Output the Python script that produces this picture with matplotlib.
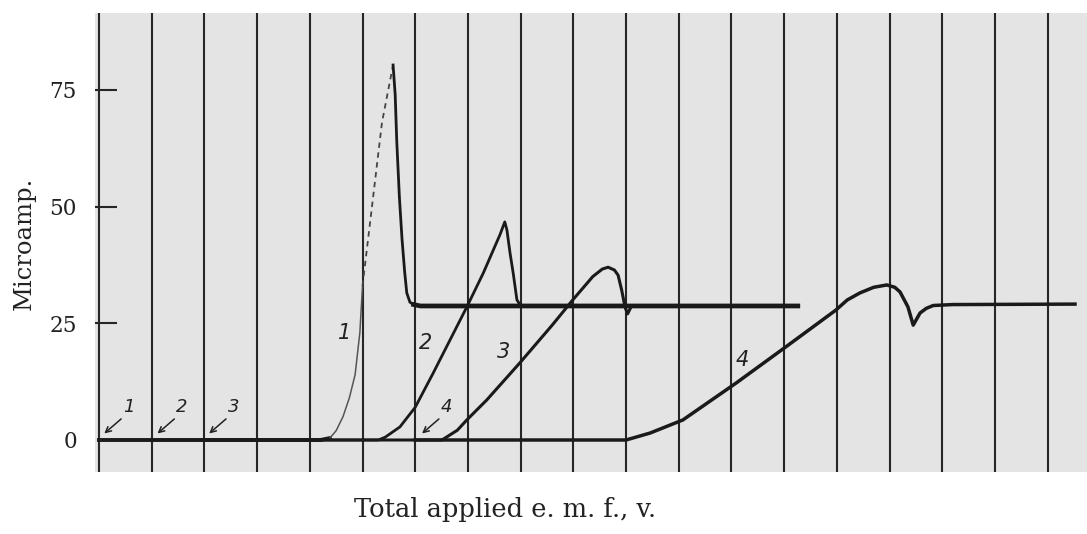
import matplotlib
matplotlib.use("Agg")
import matplotlib.pyplot as plt

# ---- data (x in chart divisions, y in microamperes) ----
yticks = [25, 50, 75]
ytick_labels = ["25", "50", "75"]
zero_label = "0"
n_divisions = 18

curve1_x = [0.0, 4.2, 4.38, 4.5, 4.63, 4.75, 4.86, 4.95, 5.0, 5.18, 5.37, 5.58,
            5.62, 5.65, 5.7, 5.75, 5.8, 5.84, 5.9, 5.97, 6.1, 13.26]
curve1_y = [0.0, 0.0, 0.4, 2.0, 5.0, 9.0, 14.0, 23.0, 33.0, 50.0, 68.0, 80.3,
            74.0, 64.0, 52.0, 43.0, 36.0, 31.5, 29.5, 29.0, 28.7, 28.7]

curve2_x = [1.0, 5.3, 5.43, 5.71, 6.0, 6.34, 6.66, 6.98, 7.29, 7.61, 7.7, 7.74,
            7.8, 7.86, 7.93, 8.0, 13.26]
curve2_y = [0.0, 0.0, 0.6, 2.8, 7.0, 14.3, 21.4, 28.5, 35.7, 44.0, 46.7, 45.0,
            40.0, 35.7, 30.0, 28.8, 28.7]

curve3_x = [2.0, 6.5, 6.55, 6.8, 6.98, 7.36, 8.0, 8.6, 8.99, 9.37, 9.55, 9.66,
            9.78, 9.85, 9.92, 9.98, 10.03, 10.1, 13.26]
curve3_y = [0.0, 0.0, 0.3, 2.1, 4.3, 8.6, 16.7, 24.6, 30.0, 35.0, 36.6, 37.0,
            36.4, 35.3, 32.0, 28.5, 27.0, 28.6, 28.7]

curve4_x = [6.0, 10.0, 10.46, 11.08, 12.09, 13.04, 13.98, 14.2, 14.44, 14.7,
            14.95, 15.1, 15.2, 15.35, 15.45, 15.52, 15.58, 15.7, 15.83, 16.2, 18.52]
curve4_y = [0.0, 0.0, 1.5, 4.3, 12.2, 20.0, 27.8, 30.0, 31.5, 32.7,
            33.2, 32.7, 31.7, 28.5, 24.6, 26.0, 27.2, 28.2, 28.8, 29.0, 29.1]

curve_labels = ["1", "2", "3", "4"]

# ---- figure ----
W, H, DPI = 1087, 534, 100
fig = plt.figure(figsize=(W / DPI, H / DPI), dpi=DPI)
fig.patch.set_facecolor("white")

# axes placed so that: div 0 at px 99, 52.7 px/div; 0 uA at py 440, 4.67 px/uA
ax_left, ax_right, ax_top, ax_bot = 95, 1087, 13, 472
ax = fig.add_axes([ax_left / W, 1 - ax_bot / H, (ax_right - ax_left) / W, (ax_bot - ax_top) / H])
ax.set_facecolor("#e4e4e4")
px_per_div = 52.7
px_per_ua = 4.67
ax.set_xlim((ax_left - 99) / px_per_div, (ax_right - 99) / px_per_div)
ax.set_ylim((440 - ax_bot) / px_per_ua, (440 - ax_top) / px_per_ua)

for s in ax.spines.values():
    s.set_visible(False)

line_col = "#1a1a1a"
for k in range(n_divisions + 1):
    ax.axvline(k, color="#262626", lw=1.5, zorder=1)

# curve 1: thick baseline, thin fast rise (broken near the top), thick fall + plateau
i_rise = 2
i_dash = 8
i_peak = 11
ax.plot(curve1_x[:i_rise + 1], curve1_y[:i_rise + 1], color=line_col, lw=2.8, zorder=3)
ax.plot(curve1_x[i_rise:i_dash + 1], curve1_y[i_rise:i_dash + 1], color="#555555", lw=1.1, zorder=3)
ax.plot(curve1_x[i_dash:i_peak + 1], curve1_y[i_dash:i_peak + 1], color="#444444", lw=1.3,
        linestyle=(0, (3, 2.5)), zorder=3)
ax.plot(curve1_x[i_peak:], curve1_y[i_peak:], color=line_col, lw=2.0, zorder=3)
ax.plot(curve1_x[i_peak + 8:], curve1_y[i_peak + 8:], color=line_col, lw=3.4, zorder=3)
ax.plot(curve2_x, curve2_y, color=line_col, lw=2.0, zorder=3)
ax.plot(curve3_x, curve3_y, color=line_col, lw=2.2, zorder=3)
ax.plot(curve4_x, curve4_y, color=line_col, lw=2.5, zorder=3)

# y ticks drawn as short inward marks
serif = "DejaVu Serif"
ax.set_xticks([])
ax.set_yticks([0] + yticks)
ax.set_yticklabels([zero_label] + ytick_labels, fontfamily=serif, fontsize=15.5, color="#222222")
ax.tick_params(axis="y", direction="in", length=16, width=1.5, color="#262626", pad=13)
ax.yaxis.get_major_ticks()[0].tick1line.set_visible(False)

# handwritten curve labels
hand = dict(fontfamily="DejaVu Sans", style="italic", fontsize=15, color="#222222",
            ha="center", va="center", zorder=4)
label_pos = [(4.67, 22.9), (6.19, 20.8), (7.67, 18.8), (12.2, 17.1)]
for lab, (x, y) in zip(curve_labels, label_pos):
    ax.text(x, y, lab, **hand)

# start arrows
arrow_heads = [(0.06, 1.0), (1.07, 1.0), (2.05, 1.0), (6.09, 1.0)]
for lab, (hx, hy) in zip(curve_labels, arrow_heads):
    ax.annotate("", xy=(hx, hy), xytext=(hx + 0.4, hy + 3.9),
                arrowprops=dict(arrowstyle="->", color="#222222", lw=1.1), zorder=4)
    ax.text(hx + 0.5, hy + 6.0, lab, **{**hand, "fontsize": 13})

fig.text(24 / W, 1 - 243 / H, "Microamp.", rotation=90, ha="center", va="center",
         fontfamily=serif, fontsize=17.5, color="#222222")
fig.text(505 / W, 1 - 510 / H, "Total applied e. m. f., v.", ha="center", va="center",
         fontfamily=serif, fontsize=18.5, color="#222222")

fig.savefig("out.png", dpi=DPI)
